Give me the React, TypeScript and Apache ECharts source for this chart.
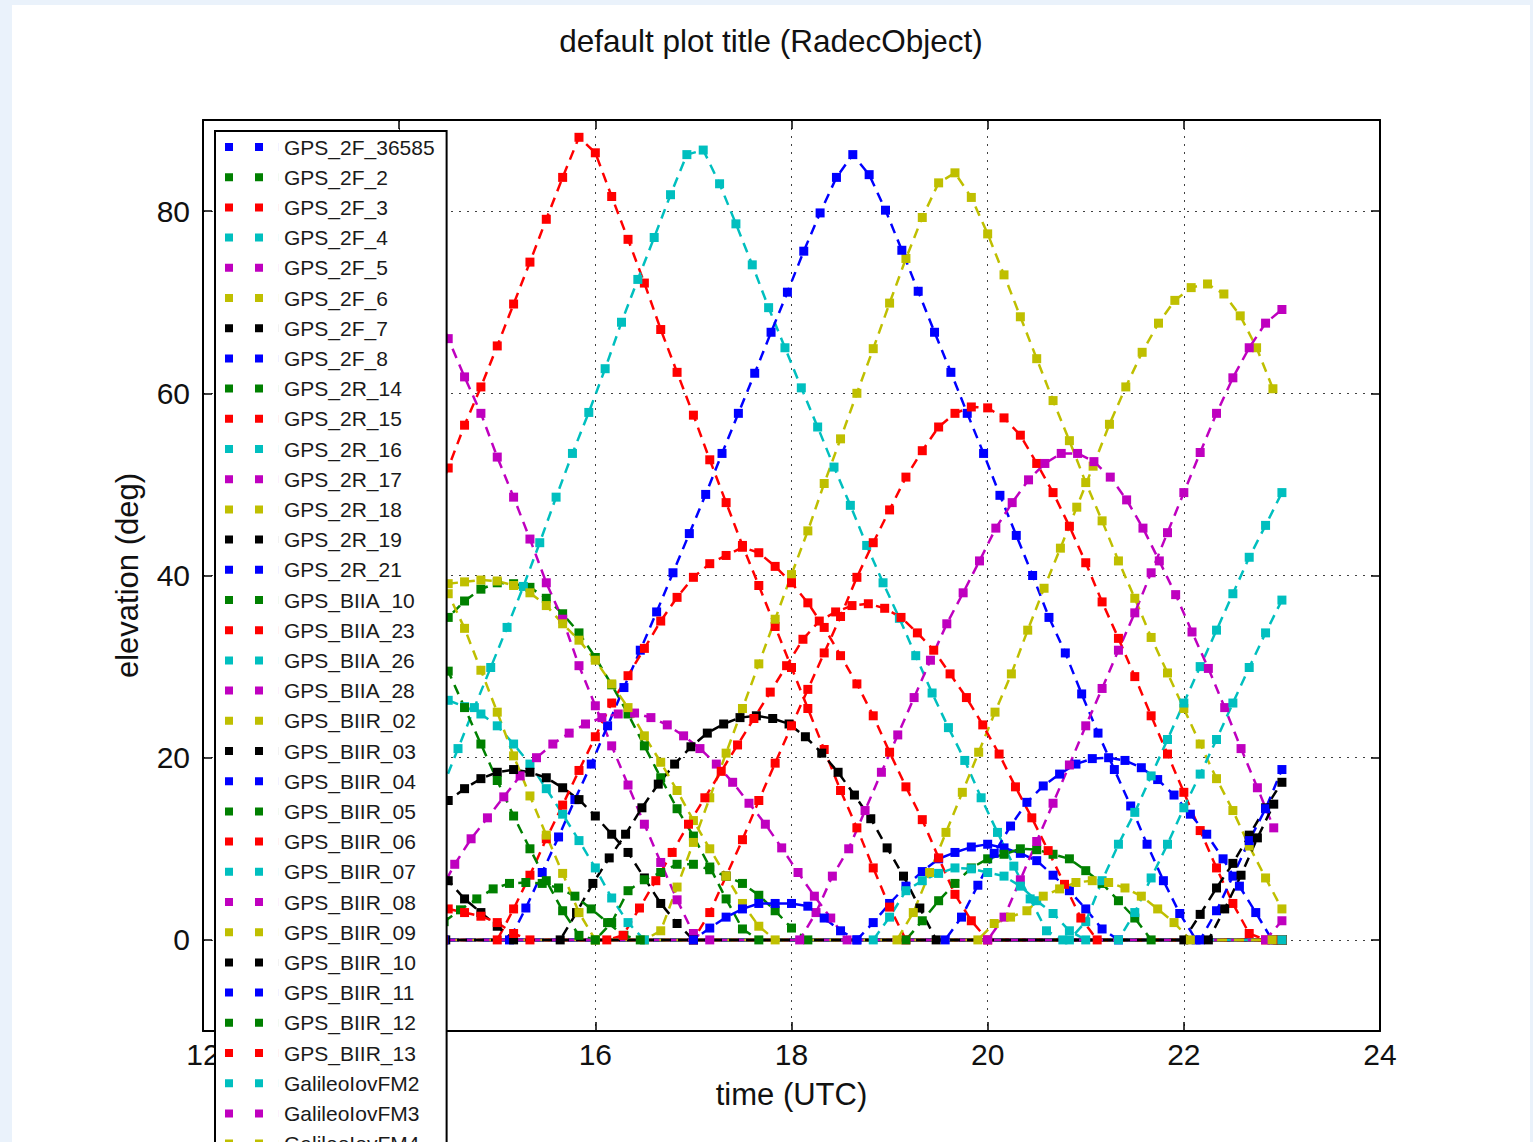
import React, { useEffect, useRef } from "react";
import * as echarts from "echarts";

// Samples are 10 minutes apart; index k = 0 is 14:20 UTC. Each satellite has its own
// sub-step sampling offset (shift, in steps). "start" is the sample index of the first value.
const START_HOUR = 14 + 20 / 60;
const STEP_HOUR = 10 / 60;
const LAST_INDEX = 52; // 23:00 UTC

const COLORS = ["#0000ff", "#008000", "#ff0000", "#00bfbf", "#bf00bf", "#bfbf00", "#000000"];
const Y_TICKS = [0, 20, 40, 60, 80];
const TITLE = "default plot title (RadecObject)";

const legendNames = [
  "GPS_2F_36585", "GPS_2F_2", "GPS_2F_3", "GPS_2F_4", "GPS_2F_5", "GPS_2F_6", "GPS_2F_7",
  "GPS_2F_8", "GPS_2R_14", "GPS_2R_15", "GPS_2R_16", "GPS_2R_17", "GPS_2R_18", "GPS_2R_19",
  "GPS_2R_21", "GPS_BIIA_10", "GPS_BIIA_23", "GPS_BIIA_26", "GPS_BIIA_28", "GPS_BIIR_02",
  "GPS_BIIR_03", "GPS_BIIR_04", "GPS_BIIR_05", "GPS_BIIR_06", "GPS_BIIR_07", "GPS_BIIR_08",
  "GPS_BIIR_09", "GPS_BIIR_10", "GPS_BIIR_11", "GPS_BIIR_12", "GPS_BIIR_13",
  "GalileoIovFM2", "GalileoIovFM3", "GalileoIovFM4",
];

// elevation values (deg)
const el_2F_36585 = [0, 1.9, 4, 5.9, 7.5, 8.9, 9.6, 10.2, 10.5, 10.1, 9.5, 8.7, 7.1, 5.4, 3.4, 1.2, 0];
const el_2F_2 = [33, 35.4, 37.2, 38.5, 39.2, 39.1, 38.7, 37.5, 35.8, 33.7, 31, 28, 24.8, 21.3, 17.8, 14.4, 11.4, 8, 4.5, 1.2, 0];
const el_2F_3 = [47.5, 51.8, 56.5, 60.7, 65.2, 69.8, 74.4, 79.1, 83.7, 88.1, 86.4, 81.6, 76.9, 72.1, 67.0, 62.3, 57.6, 52.7, 48.0, 43.3, 38.9, 34.4, 29.9, 25.4, 20.9, 16.4, 12.3, 7.9, 3.6, 0];
const el_2F_4 = [16.5, 21, 25.5, 29.9, 34.3, 38.8, 43.6, 48.6, 53.4, 57.9, 62.7, 67.8, 72.5, 77.1, 81.8, 86.2, 86.7, 83.0, 78.6, 74.1, 69.4, 65.0, 60.6, 56.3, 51.9, 47.7, 43.3, 39.2, 35.3, 31.2, 27.1, 23.3, 19.7, 15.6, 11.8, 8.1, 4.5, 1, 0];
const el_2F_5 = [70, 66, 61.8, 57.8, 53, 48.6, 44, 39.2, 35.2, 30.1, 25.7, 21.3, 17, 12.7, 8.5, 4.4, 0.7, 0];
const el_2F_6 = [0, 1, 5.8, 10.7, 15.6, 20.5, 25.4, 30.3, 35.2, 40.1, 44.9, 50.1, 55, 60, 64.9, 69.9, 74.8, 79.3, 83.1, 84.2, 81.5, 77.5, 73, 68.4, 63.8, 59.2, 54.8, 50.2, 46, 41.6, 37.5, 33.2, 29.3, 25.4, 21.5, 17.7, 14.2, 10.3, 6.8, 3.4];
const el_2F_7 = [0, 3, 6.2, 9, 11.6, 14.5, 17.1, 19.3, 21.2, 22.7, 23.7, 24.4, 24.6, 24.3, 23.7, 22.3, 20.5, 18.4, 15.9, 13.3, 10.1, 7, 3.5, 0];
const el_2F_8 = [0, 3.5, 7.4, 11.3, 15.4, 19.3, 23.5, 27.7, 31.8, 36, 40.3, 44.6, 48.9, 53.4, 57.8, 62.2, 66.7, 71.1, 75.6, 79.8, 83.7, 86.2, 84.0, 80.1, 75.7, 71.2, 66.7, 62.3, 57.8, 53.4, 48.8, 44.4, 40, 35.4, 31.5, 27, 22.7, 18.7, 14.7, 10.5, 6.5, 2.9, 0];
const el_2R_14 = [0, 2.1, 4.3, 6.2, 7.9, 8.9, 9.4, 10, 9.9, 9.4, 8.9, 7.6, 6.2, 4.3, 2.4, 0];
const el_2R_15 = [0, 3, 7, 11, 15.3, 19.4, 23.5, 27.5, 31.5, 35.5, 39.8, 43.6, 47.2, 50.8, 53.7, 56.3, 57.8, 58.5, 58.4, 57.3, 55.4, 52.3, 49.1, 45.4, 41.4, 37.1, 33.1, 28.9, 24.6, 20.4, 16.2, 12, 7.9, 4, 0.7, 0];
const el_2R_16 = [26.5, 26.3, 25.6, 24.8, 23.5, 21.5, 19.3, 16.6, 13.8, 10.9, 7.9, 4.6, 1.9, 0];
const el_2R_17 = [5, 8.3, 11.1, 13.4, 15.7, 18, 20, 21.5, 22.7, 23.7, 24.4, 24.8, 24.9, 24.4, 23.6, 22.4, 21, 19.3, 17.3, 15, 12.7, 10.1, 7.4, 4.8, 2.4, 0];
const el_2R_18 = [0, 3, 7.4, 11.8, 16.2, 20.6, 25, 29.2, 34, 38.6, 43, 47.5, 52, 56.6, 60.7, 64.5, 67.7, 70.2, 71.6, 72, 70.9, 68.5, 65, 60.5];
const el_2R_19 = [13.5, 15.3, 16.6, 17.7, 18.4, 18.7, 18.4, 17.8, 16.7, 15.4, 13.6, 11.6, 9.6, 6.8, 4, 1.8, 0];
const el_2R_21 = [0, 2.5, 6, 9.5, 12.5, 15.1, 16.9, 18.2, 19.3, 19.9, 20, 19.7, 18.9, 17.6, 15.9, 13.8, 11.6, 8.9, 5.9, 3, 0];
const el_BIIA_10 = [0, 1.9, 5.4, 6.6, 7.4, 8.3, 8.3, 7.7, 7.0, 6.2, 4.9, 3.2, 1.3, 0];
const el_BIIA_23 = [0, 3.4, 7.1, 11.1, 14.8, 18.6, 22.3, 26, 29, 32, 35, 37.6, 39.8, 41.3, 42.2, 43.1, 42.5, 41, 39.2, 37, 34.3, 31.2, 28.1, 24.6, 20.6, 16.8, 13.2, 9, 5, 2.1, 0];
const el_BIIA_26 = [0, 2, 6.5, 10.5, 14, 18, 22, 26, 30, 34, 38, 42, 45.5, 49.1];
const el_BIIA_28 = [0, 3, 7, 10, 14.2, 18.4, 22.5, 26.6, 30.7, 34.7, 38.1, 41.6, 45.2, 48, 50.5, 52.3, 53.4, 53.4, 52.5, 50.8, 48.3, 45.2, 41.6, 37.9, 33.8, 29.8, 25.5, 21, 16.7, 12.3];
const el_BIIR_02 = [38.5, 39.1, 39.3, 39.5, 39.4, 38.9, 38.1, 36.7, 34.7, 32.9, 30.7, 28.1, 25.5, 22.4, 19.5, 16.4, 13.1, 10, 7, 4, 1.5, 0];
const el_BIIR_03 = [8, 6.5, 4.5, 3, 1.5, 0];
const el_BIIR_04 = [0, 1.3, 2.5, 3.4, 4, 4, 4, 3.7, 2.4, 1, 0];
const el_BIIR_05 = [2, 3.3, 4.5, 5.6, 6.2, 6.3, 6.2, 5.7, 4.8, 3.4, 1.9, 0.5, 0];
const el_BIIR_06 = [0, 0.5, 3.5, 6.5, 9.6, 12.7, 15.6, 18.5, 21.4, 24.3, 27.2, 30.1, 33, 35, 36, 36.7, 36.9, 36.4, 35.4, 33.7, 31.8, 29.2, 26.6, 23.6, 20.4, 16.8, 13.4, 9.8, 6.1, 2.4, 0];
const el_BIIR_07 = [0, 3, 6.8, 10.5, 14.5, 18.2, 22, 26, 29.9, 33.7, 37.3];
const el_BIIR_08 = [0, 2.5, 6.6, 10.8, 15, 19.2, 23.5, 27.6, 31.8, 35.9, 40.3, 44.7, 49.1, 53.5, 57.8, 61.7, 65, 67.7, 69.2];
const el_BIIR_09 = [42, 38, 34.2, 29.6, 25, 20.2, 15.8, 11.5, 7.3, 3, 0];
const el_BIIR_10 = [0, 2.8, 5.7, 8.4, 11.5, 14.5, 17.3];
const el_BIIR_11 = [0, 3.2, 7, 10.9, 14.4, 18.7];
const el_BIIR_12 = [33, 29.5, 25.5, 21.5, 17.5, 13.6, 10, 6.5, 3.2, 0.5, 0];
const el_BIIR_13 = [4, 3.4, 3, 2.6, 1.9, 0.7, 0];
const el_FM2 = [0, 2.5, 5.4, 6.5, 7.3, 7.9, 7.8, 7.4, 7, 5.9, 4.3, 2.9, 1, 0];
const el_FM3 = [0, 2.1];
const el_FM4 = [0, 1.8, 2.5, 3.2, 4.8, 5.6, 6.3, 6.5, 6.3, 5.7, 4.8, 3.4, 1.9, 0];
const el_extra = [0, 3.4, 7.1, 11.2, 14.9];

// per track: [name, first sample index, sampling offset in steps, values]
const tracks: [string, number, number, number[]][] = [
  ["GPS_2F_36585", 26, 0, el_2F_36585],
  ["GPS_2F_2", 0, 0, el_2F_2],
  ["GPS_2F_3", 0, 0, el_2F_3],
  ["GPS_2F_4", 0, 0.6, el_2F_4],
  ["GPS_2F_5", 0, 0, el_2F_5],
  ["GPS_2F_6", 13, 0, el_2F_6],
  ["GPS_2F_7", 7, 0.85, el_2F_7],
  ["GPS_2F_8", 4, 0.75, el_2F_8],
  ["GPS_2R_14", 29, 0, el_2R_14],
  ["GPS_2R_15", 16, 0, el_2R_15],
  ["GPS_2R_16", 0, 0, el_2R_16],
  ["GPS_2R_17", 0, 0.4, el_2R_17],
  ["GPS_2R_18", 28, 0.45, el_2R_18],
  ["GPS_2R_19", 0, 0, el_2R_19],
  ["GPS_2R_21", 31, 0.4, el_2R_21],
  ["GPS_BIIA_10", 10, 0, el_BIIA_10],
  ["GPS_BIIA_23", 4, 0, el_BIIA_23],
  ["GPS_BIIA_26", 39, 0, el_BIIA_26],
  ["GPS_BIIA_28", 22, 0.5, el_BIIA_28],
  ["GPS_BIIR_02", 0, 0, el_BIIR_02],
  ["GPS_BIIR_03", 0, 0, el_BIIR_03],
  ["GPS_BIIR_04", 16, 0, el_BIIR_04],
  ["GPS_BIIR_05", 0, 0.75, el_BIIR_05],
  ["GPS_BIIR_06", 10, 0.7, el_BIIR_06],
  ["GPS_BIIR_07", 42, 0, el_BIIR_07],
  ["GPS_BIIR_08", 34, 0, el_BIIR_08],
  ["GPS_BIIR_09", 0, 0, el_BIIR_09],
  ["GPS_BIIR_10", 46, 0, el_BIIR_10],
  ["GPS_BIIR_11", 47, 0, el_BIIR_11],
  ["GPS_BIIR_12", 0, 0, el_BIIR_12],
  ["GPS_BIIR_13", 0, 0, el_BIIR_13],
  ["GalileoIovFM2", 27, 0, el_FM2],
  ["GalileoIovFM3", 51, 0, el_FM3],
  ["GalileoIovFM4", 33, 0.4, el_FM4],
  ["GalileoIov_extra", 47, 0.5, el_extra],
];

function trackPoints(start: number, shift: number, values: number[]) {
  const last = Math.floor(LAST_INDEX - shift + 1e-9);
  const t = (k: number) => START_HOUR + (k + shift) * STEP_HOUR;
  const pts: [number, number][] = [];
  if (start > 0) pts.push([t(0), 0]); // below horizon: drawn along 0
  values.forEach((v, j) => pts.push([t(start + j), v]));
  const end = start + values.length - 1;
  if (end < last) pts.push([t(last), 0]);
  return pts;
}

const FONT = "'Liberation Sans', Arial, sans-serif";

export default function App() {
  const ref = useRef<HTMLDivElement>(null);
  useEffect(() => {
    if (!ref.current) return;
    const chart = echarts.init(ref.current, null, { renderer: "svg" });

    const lineSeries: any[] = tracks.map(([name, start, shift, values], i) => {
      const color = COLORS[i % COLORS.length];
      return {
        type: "line",
        name,
        data: trackPoints(start, shift, values),
        symbol: "rect",
        symbolSize: 9,
        showSymbol: true,
        z: 2,
        lineStyle: { color, width: 2.5, type: [10, 7] },
        itemStyle: { color },
        emphasis: { disabled: true },
        silent: true,
        animation: false,
      };
    });

    const gridLineStyle = { color: "#000", type: [2, 6], width: 1, opacity: 0.75 };

    const axisCommon = {
      type: "value",
      axisLine: { show: true, onZero: false, lineStyle: { color: "#000", width: 2 } },
      axisTick: { show: true, inside: true, length: 9, lineStyle: { color: "#000", width: 1.5 } },
    };

    chart.setOption({
      animation: false,
      backgroundColor: "#ffffff",
      title: {
        text: TITLE,
        left: "center",
        top: 20,
        padding: 0,
        textStyle: { fontFamily: FONT, fontSize: 31.5, fontWeight: "normal", color: "#111" },
      },
      grid: { left: 191, top: 115, right: 150, bottom: 111, containLabel: false },
      legend: {
        data: legendNames,
        orient: "vertical",
        left: 203,
        top: 126,
        height: 1100,
        z: 10,
        padding: [5, 12, 6, 10],
        itemGap: 8.2,
        itemWidth: 54,
        itemHeight: 8,
        icon: "path://M0,0h8v8h-8z M30,0h8v8h-8z M53.95,0h0.05v8h-0.05z",
        backgroundColor: "#ffffff",
        borderColor: "#000",
        borderWidth: 2,
        borderRadius: 0,
        selectedMode: false,
        textStyle: { fontFamily: FONT, fontSize: 21, color: "#1a1a1a", lineHeight: 22 },
      },
      xAxis: [
        {
          ...axisCommon,
          position: "bottom",
          min: 12,
          max: 24,
          interval: 2,
          name: "time (UTC)",
          nameLocation: "middle",
          nameGap: 48,
          nameTextStyle: { fontFamily: FONT, fontSize: 31, color: "#111" },
          axisLabel: { fontFamily: FONT, fontSize: 30, color: "#111", margin: 8 },
          splitLine: { show: true, lineStyle: gridLineStyle },
        },
        {
          ...axisCommon,
          position: "top",
          min: 12,
          max: 24,
          interval: 2,
          axisLabel: { show: false },
          splitLine: { show: false },
        },
      ],
      yAxis: [
        {
          ...axisCommon,
          position: "left",
          min: -10,
          max: 90,
          interval: 10,
          name: "elevation (deg)",
          nameLocation: "middle",
          nameRotate: 90,
          nameGap: 60,
          nameTextStyle: { fontFamily: FONT, fontSize: 31, color: "#111" },
          axisTick: { ...axisCommon.axisTick, customValues: Y_TICKS },
          axisLabel: { fontFamily: FONT, fontSize: 30, color: "#111", margin: 13, customValues: Y_TICKS },
          splitLine: { show: false },
        },
        {
          ...axisCommon,
          position: "right",
          min: -10,
          max: 90,
          interval: 10,
          axisTick: { ...axisCommon.axisTick, customValues: Y_TICKS },
          axisLabel: { show: false },
          splitLine: { show: false },
        },
      ],
      series: [
        {
          type: "line",
          name: "__grid",
          data: [],
          silent: true,
          z: 1,
          markLine: {
            silent: true,
            z: 1,
            symbol: ["none", "none"],
            label: { show: false },
            lineStyle: gridLineStyle,
            emphasis: { disabled: true },
            animation: false,
            data: Y_TICKS.map((v) => ({ yAxis: v })),
          },
        },
        ...lineSeries,
      ],
    });
    return () => chart.dispose();
  }, []);

  return (
    <div style={{ position: "fixed", left: 0, top: 0, width: 1533, height: 1142, background: "#eaf2fb", overflow: "hidden" }}>
      <div
        ref={ref}
        style={{ position: "absolute", left: 12, top: 5, width: 1518, height: 1137, background: "#ffffff" }}
      />
    </div>
  );
}
